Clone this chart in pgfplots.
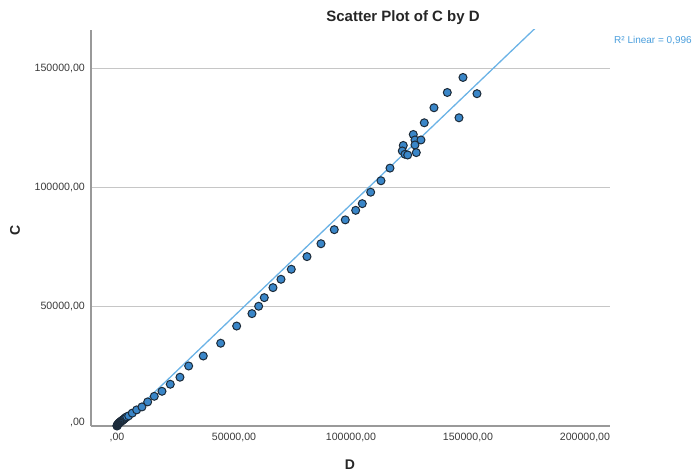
\documentclass[border=0pt]{standalone}
\usepackage{fontspec}
\setmainfont{Liberation Sans}
\usepackage{pgfplots}
\usepackage{pgfplotstable}
\pgfplotsset{compat=1.18}
\definecolor{ptfill}{HTML}{3A86C8}
\definecolor{ptedge}{HTML}{1C2A38}
\definecolor{fitline}{HTML}{6BB3E6}
\definecolor{rtext}{HTML}{4A9EDC}
\definecolor{gridc}{HTML}{C6C6C6}
\definecolor{axisc}{HTML}{999999}
\definecolor{tickc}{HTML}{3A3A3A}

\pgfplotstableread{
x y
0 0
50 150
100 300
250 500
400 700
560 900
750 1100
940 1300
1150 1480
1370 1650
1580 1820
1800 2000
2030 2180
2270 2350
2520 2520
2780 2700
3100 3000
3420 3300
3800 3580
4190 3850
4990 4250
6540 5400
8420 6750
10680 8000
13120 10100
15940 12450
19230 14550
22780 17500
26920 20450
30640 25150
36880 29350
44320 34700
51150 41900
57690 47100
60550 50200
62950 53800
66670 58000
70090 61500
74490 65700
81200 71000
87180 76400
92860 82300
97560 86400
102010 90400
104830 93200
108420 98000
112820 102800
116670 108100
122350 117600
121920 115300
123080 113900
124230 113600
126620 122200
127350 119900
129910 119900
127350 117800
127910 114600
131330 127100
135470 133400
141160 139800
147870 146100
153850 139300
146160 129200
}\pts

\begin{document}
\begin{tikzpicture}[x=1bp,y=1bp]
\path[use as bounding box] (0,0) rectangle (695,472);
\begin{axis}[
  at={(91bp,46bp)}, anchor=south west, scale only axis,
  width=519bp, height=396bp,
  xmin=-11100, xmax=210700, ymin=0, ymax=166000,
  axis lines*=left,
  axis line style={axisc, line width=1.5bp},
  major tick length=0,
  ymajorgrids,
  grid style={gridc, line width=1.1bp},
  xtick={0,50000,100000,150000,200000},
  xticklabels={{,00},{50000,00},{100000,00},{150000,00},{200000,00}},
  ytick={0,50000,100000,150000},
  yticklabels={{\raisebox{9bp}{,00}},{50000,00},{100000,00},{150000,00}},
  scaled ticks=false,
  tick label style={font=\fontsize{10.6bp}{12bp}\selectfont, text=tickc},
  yticklabel style={inner sep=0pt, xshift=-6bp},
  xticklabel style={inner sep=0pt, yshift=-7bp},
  clip=true,
]
\addplot[fitline, line width=1.3bp] coordinates {(-11000,-11218) (200000,186700)};
\addplot[only marks, mark=*, mark size=4bp,
  mark options={fill=ptfill, draw=ptedge, line width=1bp}] table[x=x,y=y] {\pts};
\end{axis}
\node[font=\bfseries\fontsize{15bp}{17bp}\selectfont, text=black!85] at (403,454) {Scatter Plot of C by D};
\node[font=\fontsize{10bp}{12bp}\selectfont, text=rtext, anchor=west, inner sep=0pt] at (614,431) {R² Linear = 0,996};
\node[font=\bfseries\fontsize{14bp}{16bp}\selectfont, text=black!85] at (350,7) {D};
\node[font=\bfseries\fontsize{14bp}{16bp}\selectfont, text=black!85, rotate=90] at (15,242) {C};
\end{tikzpicture}
\end{document}
